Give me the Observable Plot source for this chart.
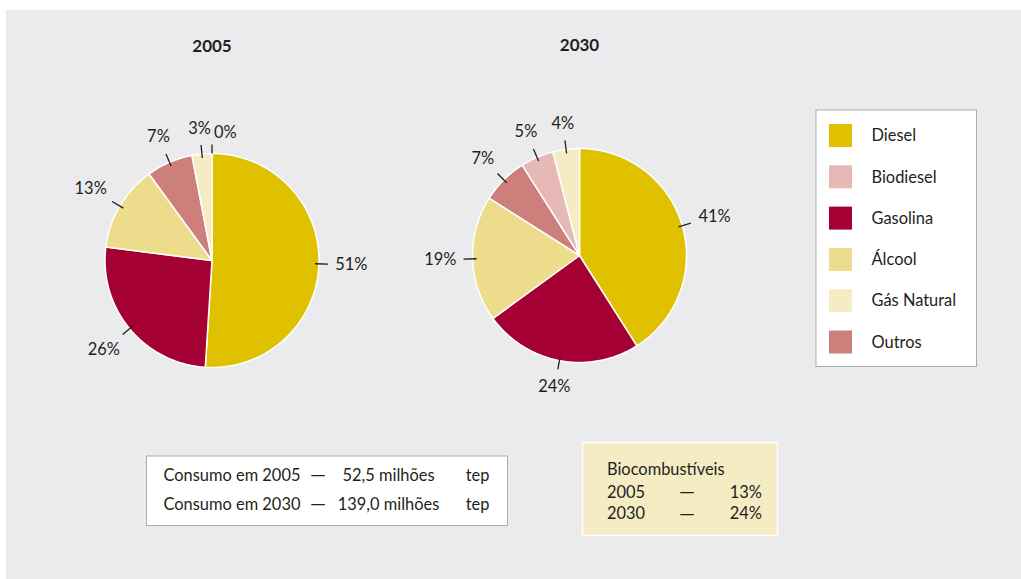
<!DOCTYPE html>
<html><head><meta charset="utf-8">
<script src="https://cdn.jsdelivr.net/npm/d3@7"></script>
<script src="https://cdn.jsdelivr.net/npm/@observablehq/plot@0.6"></script>
<style>body{margin:0;background:#fff;}</style>
</head><body><div id="chart"></div>
<script>
// ---- data ----
const categories = ["Diesel", "Biodiesel", "Gasolina", "Álcool", "Gás Natural", "Outros"];
const categoryColors = ["#dfc100", "#e6b9b6", "#a50034", "#eedc8d", "#f6ecc4", "#cd7f7c"];
const years = ["2005", "2030"];
const order2005 = ["Diesel", "Gasolina", "Álcool", "Outros", "Gás Natural", "Biodiesel"];
const values2005 = [51, 26, 13, 7, 3, 0];
const order2030 = ["Diesel", "Gasolina", "Álcool", "Outros", "Biodiesel", "Gás Natural"];
const values2030 = [41, 24, 19, 7, 5, 4];
const consumoLabels = ["Consumo em 2005", "Consumo em 2030"];
const consumoValues = ["52,5", "139,0"];
const consumoUnit = "milhões";
const bioTitle = "Biocombustíveis";
const bioShare = [13, 24];

// ---- layout ----
const W = 1021, H = 579;
const FONT = "Lato";
const ctx = document.createElement("canvas").getContext("2d");
function measure(t, size, weight = "normal") { ctx.font = `${weight} ${size}px ${FONT}`; return ctx.measureText(t).width; }
const fs = Math.max(15, Math.min(18, 16 * 137 / measure("Consumo em 2005", 16)));
const fsTitle = 17;
const r = 107;
const pies = [
  {year: years[0], cx: 211.5, cy: 260, order: order2005, values: values2005},
  {year: years[1], cx: 579, cy: 255, order: order2030, values: values2030}
];

const slicePts = [], ticks = [], labelsMid = [], labelsStart = [];
pies.forEach(p => {
  const arcs = d3.pie().sort(null).value(d => d)(p.values);
  arcs.forEach((a, i) => {
    const cat = p.order[i];
    const id = p.year + "-" + cat;
    if (a.endAngle > a.startAngle) {
      const n = Math.max(2, Math.ceil((a.endAngle - a.startAngle) / 0.015));
      slicePts.push({id, cat, x: p.cx, y: p.cy});
      for (let k = 0; k <= n; k++) {
        const t = a.startAngle + (a.endAngle - a.startAngle) * k / n;
        slicePts.push({id, cat, x: p.cx + r * Math.sin(t), y: p.cy - r * Math.cos(t)});
      }
      slicePts.push({id, cat, x: p.cx, y: p.cy});
    }
    const m = (a.startAngle + a.endAngle) / 2;
    const s = Math.sin(m), c = Math.cos(m);
    const r1 = a.value > 0 ? r - 4 : r, r2 = r + 9;
    ticks.push({x1: p.cx + r1 * s, y1: p.cy - r1 * c, x2: p.cx + r2 * s, y2: p.cy - r2 * c});
    const text = a.value + "%";
    const w = measure(text, fs);
    if (a.value === 0) {
      labelsStart.push({text, x: p.cx + r2 * s + 2, y: p.cy - (r + 21) * c});
    } else {
      const R = r + 16 + (w / 2) * Math.abs(s) + 8 * Math.abs(c);
      labelsMid.push({text, x: p.cx + R * s, y: p.cy - R * c});
    }
  });
});

const legY0 = 124, legStep = 41.3, sw = 23;
const txt = "#231f20";
const DASH_FONT = "DejaVu Sans";

const chart = Plot.plot({
  width: W, height: H, margin: 0,
  x: {domain: [0, W], range: [0, W], axis: null},
  y: {domain: [0, H], range: [0, H], axis: null},
  color: {domain: categories, range: categoryColors},
  style: {fontFamily: FONT, background: "white", color: txt},
  marks: [
    Plot.rect([0], {x1: 6, x2: W, y1: 10, y2: H, fill: "#ebebed"}),
    // pies
    Plot.line(slicePts, {x: "x", y: "y", z: "id", fill: "cat", stroke: "white", strokeWidth: 1.5, curve: "linear", strokeLinejoin: "round"}),
    Plot.link(ticks, {x1: "x1", y1: "y1", x2: "x2", y2: "y2", stroke: txt, strokeWidth: 1.3}),
    Plot.text(labelsMid, {x: "x", y: "y", text: "text", fontSize: fs, fill: txt}),
    Plot.text(labelsStart, {x: "x", y: "y", text: "text", fontSize: fs, fill: txt, textAnchor: "start"}),
    Plot.text(pies, {x: "cx", y: (d, i) => 46 - i, text: "year", fontSize: fsTitle, fontWeight: "bold", fill: txt}),
    // legend
    Plot.rect([0], {x1: 816, x2: 976.5, y1: 110, y2: 366.5, fill: "white", stroke: "#ababab", strokeWidth: 1}),
    Plot.rect(categories, {x1: 829, x2: 829 + sw, y1: (d, i) => legY0 + i * legStep, y2: (d, i) => legY0 + i * legStep + sw, fill: d => d}),
    Plot.text(categories, {x: 871, y: (d, i) => legY0 + i * legStep + sw / 2, text: d => d, textAnchor: "start", fontSize: fs, fill: txt}),
    // consumption box
    Plot.rect([0], {x1: 146.5, x2: 507.5, y1: 456, y2: 525.5, fill: "white", stroke: "#ababab", strokeWidth: 1}),
    Plot.text(consumoLabels, {x: 163, y: (d, i) => 475 + i * 29, text: d => d, textAnchor: "start", fontSize: fs, fill: txt}),
    Plot.text(consumoLabels, {x: 317.5, y: (d, i) => 475 + i * 29, text: () => "—", fontSize: 15, fontFamily: DASH_FONT, fill: txt}),
    Plot.text(consumoValues, {x: 388, y: (d, i) => 475 + i * 29, text: d => d + " " + consumoUnit, fontSize: fs, fill: txt}),
    Plot.text(consumoValues, {x: 477, y: (d, i) => 475 + i * 29, text: () => "tep", fontSize: fs, fill: txt}),
    // biofuels box
    Plot.rect([0], {x1: 582.5, x2: 777.5, y1: 442.5, y2: 535.5, fill: "#f6ecc4", stroke: "white", strokeWidth: 1.5}),
    Plot.text([bioTitle], {x: 606.5, y: 469.5, text: d => d, textAnchor: "start", fontSize: fs, fill: txt}),
    Plot.text(years, {x: 606.5, y: (d, i) => 492 + i * 21.5, text: d => d, textAnchor: "start", fontSize: fs, fill: txt}),
    Plot.text(years, {x: 686.5, y: (d, i) => 492 + i * 21.5, text: () => "—", fontSize: 15, fontFamily: DASH_FONT, fill: txt}),
    Plot.text(bioShare, {x: 761.5, y: (d, i) => 492 + i * 21.5, text: d => d + "%", textAnchor: "end", fontSize: fs, fill: txt})
  ]
});
document.getElementById("chart").appendChild(chart);
</script>
</body></html>
